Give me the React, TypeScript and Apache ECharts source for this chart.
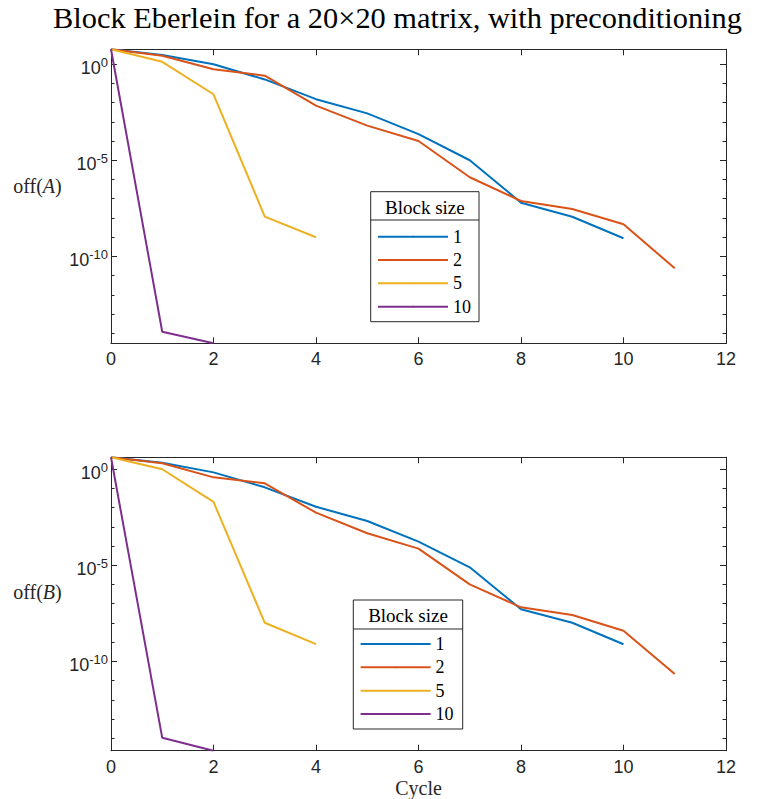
import React, { useEffect, useRef } from 'react';
import * as echarts from 'echarts';

// ---- data ----
const cycles = [0, 1, 2, 3, 4, 5, 6, 7, 8, 9, 10, 11];
const blockSizes = ['1', '2', '5', '10'];
const colors = ['#0072BD', '#D95319', '#EDB120', '#7E2F8E'];
const xTicks = [0, 2, 4, 6, 8, 10, 12];

// off(A)
const offA_1 = [5.9, 2.95, 0.98, 0.16, 1.5e-2, 2.75e-3, 2.3e-4, 1.0e-5, 6.2e-8, 1.15e-8, 8.7e-10];
const offA_2 = [5.9, 2.7, 0.54, 0.25, 6.9e-3, 6.3e-4, 1.0e-4, 1.3e-6, 7.6e-8, 2.9e-8, 4.7e-9, 2.4e-11];
const offA_5 = [5.9, 1.32, 2.7e-2, 1.17e-8, 9.8e-10];
const offA_10 = [5.9, 1.2e-14, 3.0e-15];

// off(B)
const offB_1 = [4.2, 2.19, 0.69, 0.115, 1.12e-2, 2.04e-3, 1.7e-4, 7.9e-6, 5.2e-8, 1.02e-8, 7.8e-10];
const offB_2 = [4.2, 2.04, 0.38, 0.186, 5.5e-3, 4.7e-4, 7.4e-5, 1.02e-6, 6.5e-8, 2.6e-8, 3.9e-9, 2.2e-11];
const offB_5 = [4.2, 1.0, 2.0e-2, 1.02e-8, 7.9e-10];
const offB_10 = [4.2, 1.05e-14, 2.24e-15];

const titleText = 'Block Eberlein for a 20\u00d720 matrix, with preconditioning';
const legendTitle = 'Block size';
const xName = 'Cycle';

const panels = [
  { series: [offA_1, offA_2, offA_5, offA_10], matrix: 'A' },
  { series: [offB_1, offB_2, offB_5, offB_10], matrix: 'B' },
];

// ---- layout ----
const AX = '#262626';
const SANS = 'Liberation Sans';
const SERIF = 'Liberation Serif';
const grids = [
  { left: 111, top: 49.3, width: 615, height: 294 },
  { left: 111, top: 457.3, width: 615, height: 293.4 },
];
const legendPos = [
  { box: { x: 370.7, y: 191.7, w: 108.3, h: 130 }, div: 220, title: 207, left: 377, top: 226.7 },
  { box: { x: 353.3, y: 600, w: 109.4, h: 129 }, div: 629, title: 615.3, left: 359.6, top: 634 },
];
const yNamePos = [185.5, 592];

function buildOption() {
  const xAxis: any[] = [];
  const yAxis: any[] = [];
  const series: any[] = [];
  const graphic: any[] = [];

  panels.forEach((p, g) => {
    const logs = p.series.map((arr) => arr.map((v) => Math.log10(v)));
    const all = logs.flat();
    const yMin = Math.min(...all);
    const yMax = Math.max(...all);

    ['bottom', 'top'].forEach((pos) => {
      xAxis.push({
        type: 'value',
        gridIndex: g,
        position: pos,
        min: xTicks[0],
        max: xTicks[xTicks.length - 1],
        interval: xTicks[1] - xTicks[0],
        axisLine: { show: true, onZero: false, lineStyle: { color: AX, width: 1 } },
        axisTick: { show: true, inside: true, length: 6, lineStyle: { color: AX, width: 1 } },
        axisLabel: {
          show: pos === 'bottom',
          margin: 7,
          color: AX,
          fontSize: 18,
          fontFamily: SANS,
        },
        splitLine: { show: false },
        name: pos === 'bottom' && g === 1 ? xName : '',
        nameLocation: 'middle',
        nameGap: 27,
        nameTextStyle: { fontFamily: SERIF, fontSize: 20, color: AX },
      });
    });

    ['left', 'right'].forEach((pos) => {
      [5, 1].forEach((step) => {
        yAxis.push({
          type: 'value',
          gridIndex: g,
          position: pos,
          min: yMin,
          max: yMax,
          minInterval: step,
          maxInterval: step,
          splitNumber: step === 5 ? 3 : 15,
          axisLine: { show: true, onZero: false, lineStyle: { color: AX, width: 1 } },
          axisTick: {
            show: true,
            inside: true,
            length: step === 5 ? 6 : 3.5,
            lineStyle: { color: AX, width: 1 },
          },
          axisLabel: {
            show: pos === 'left' && step === 5,
            margin: 3,
            padding: [4.5, 0, 0, 0],
            formatter: (v: number) => {
              const r = Math.round(v);
              if (Math.abs(v - r) > 1e-6 || r % 5 !== 0) return '';
              return `{b|10}{s|${r}}`;
            },
            rich: {
              b: { fontSize: 18, fontFamily: SANS, color: AX, lineHeight: 18, verticalAlign: 'bottom' },
              s: { fontSize: 13, fontFamily: SANS, color: AX, lineHeight: 20.5, verticalAlign: 'top' },
            },
          },
          splitLine: { show: false },
        });
      });
    });

    logs.forEach((arr, i) => {
      series.push({
        type: 'line',
        name: blockSizes[i],
        xAxisIndex: g * 2,
        yAxisIndex: g * 4,
        data: arr.map((v, k) => [cycles[k], v]),
        symbol: 'none',
        showSymbol: false,
        lineStyle: { width: 2, color: colors[i] },
        itemStyle: { color: colors[i] },
        z: 2,
      });
    });

    const lp = legendPos[g];
    graphic.push(
      {
        type: 'rect',
        z: 3,
        shape: { x: lp.box.x, y: lp.box.y, width: lp.box.w, height: lp.box.h },
        style: { fill: '#fff', stroke: AX, lineWidth: 1 },
      },
      {
        type: 'line',
        z: 3,
        shape: { x1: lp.box.x, y1: lp.div, x2: lp.box.x + lp.box.w, y2: lp.div },
        style: { stroke: AX, lineWidth: 1 },
      },
      {
        type: 'text',
        z: 3,
        x: lp.box.x + lp.box.w / 2,
        y: lp.title,
        style: {
          text: legendTitle,
          fontFamily: SERIF,
          fontSize: 19,
          fill: '#000',
          textAlign: 'center',
          textVerticalAlign: 'middle',
        },
      },
      {
        type: 'text',
        z: 3,
        x: 61.7,
        y: yNamePos[g],
        style: {
          rich: {
            n: { fontFamily: SERIF, fontSize: 20, fill: AX },
            i: { fontFamily: SERIF, fontSize: 20, fontStyle: 'italic', fill: AX },
          },
          text: `{n|off(}{i|${p.matrix}}{n|)}`,
          textAlign: 'right',
          textVerticalAlign: 'middle',
        },
      }
    );
  });

  graphic.push({
    type: 'text',
    z: 3,
    x: 53,
    y: 18,
    style: {
      text: titleText,
      fontFamily: SERIF,
      fontSize: 30.4,
      fill: '#000',
      textAlign: 'left',
      textVerticalAlign: 'middle',
    },
  });

  const legend = legendPos.map((lp) => ({
    data: blockSizes,
    orient: 'vertical',
    left: lp.left,
    top: lp.top,
    padding: 0,
    itemWidth: 70,
    itemHeight: 2,
    itemGap: 3.33,
    selectedMode: false,
    textStyle: { fontFamily: SERIF, fontSize: 18, color: '#000', lineHeight: 20 },
    z: 4,
  }));

  return {
    animation: false,
    backgroundColor: '#fff',
    grid: grids,
    xAxis,
    yAxis,
    series,
    legend,
    graphic,
  };
}

export default function App() {
  const ref = useRef<HTMLDivElement>(null);
  useEffect(() => {
    const chart = echarts.init(ref.current!, null, { renderer: 'svg' });
    chart.setOption(buildOption() as any);
    return () => chart.dispose();
  }, []);
  return (
    <div
      ref={ref}
      style={{ position: 'absolute', left: 0, top: 0, width: 759, height: 799, background: '#fff' }}
    />
  );
}
